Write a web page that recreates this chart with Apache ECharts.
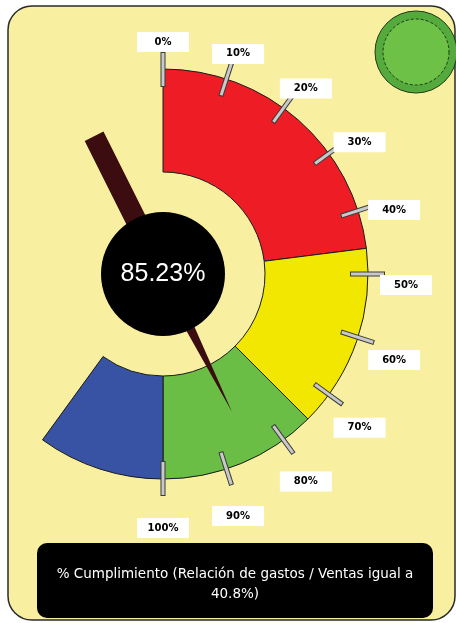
<!DOCTYPE html>
<html>
<head>
<meta charset="utf-8">
<script src="https://cdn.jsdelivr.net/npm/echarts@6/dist/echarts.min.js"></script>
<style>
  html, body { margin: 0; padding: 0; background: #ffffff; }
  #chart { width: 456px; height: 623px; }
</style>
</head>
<body>
<div id="chart"></div>
<script>
// Reading shown by the needle, in percent
const gaugeValue = 85.23;

// Scale of the dial (0% at the top, 100% at the bottom, clockwise)
const scaleMin = 0;
const scaleMax = 100;
const tickStep = 10;
const tickLabels = ['0%', '10%', '20%', '30%', '40%', '50%', '60%', '70%', '80%', '90%', '100%'];

// Colour bands, in percent of the scale
const bandNames = ['Bajo', 'Medio', 'Bueno', 'Excedido'];
const bandFrom = [0, 46, 75, 100];
const bandTo = [46, 75, 100, 120];
const bandColors = ['#ee1d25', '#f2e700', '#6abd45', '#3953a4'];

// Caption under the dial
const captionLines = ['% Cumplimiento (Relación de gastos / Ventas igual a', '40.8%)'];

// A full turn spans twice the scale, because the 0–100% scale covers half a turn
const fullTurn = 2 * (scaleMax - scaleMin);

const dialCenter = [163, 274];
const labelCenter = [163, 285];
const outerR = 205;
const innerR = 102;

const bandData = bandFrom.map((f, i) => ({
  name: bandNames[i],
  value: bandTo[i] - f,
  itemStyle: { color: bandColors[i] }
}));
bandData.push({
  name: '',
  value: fullTurn - (bandTo[bandTo.length - 1] - bandFrom[0]),
  itemStyle: { color: 'rgba(0,0,0,0)', borderWidth: 0 }
});

const splitCount = (scaleMax - scaleMin) / tickStep;

function hiddenDial(extra) {
  return Object.assign({
    type: 'gauge',
    z: 3,
    center: dialCenter,
    radius: outerR,
    startAngle: 90,
    endAngle: -90,
    min: scaleMin,
    max: scaleMax,
    splitNumber: splitCount,
    silent: true,
    animation: false,
    axisLine: { show: false, lineStyle: { width: 0 } },
    splitLine: { show: false, length: 0, distance: 0 },
    axisTick: { show: false },
    axisLabel: { show: false },
    pointer: { show: false },
    anchor: { show: false },
    title: { show: false },
    detail: { show: false },
    data: [{ value: gaugeValue }]
  }, extra);
}

// Tick bars: a dark outline bar with a lighter bar laid over it
function tickRing(width, length, distance, color, z) {
  return hiddenDial({
    z: z,
    splitLine: { show: true, length: length, distance: distance, lineStyle: { color: color, width: width, cap: 'butt' } }
  });
}

const chart = echarts.init(document.getElementById('chart'), null, { renderer: 'canvas' });

chart.setOption({
  animation: false,
  backgroundColor: '#ffffff',
  title: {
    text: captionLines.join('\n'),
    left: 235,
    top: 564,
    textAlign: 'center',
    padding: 0,
    textStyle: {
      color: '#ffffff',
      fontSize: 13.5,
      fontWeight: 'normal',
      fontFamily: 'DejaVu Sans',
      lineHeight: 20
    }
  },
  graphic: [
    {
      type: 'rect', z: 0, silent: true,
      shape: { x: 8, y: 6, width: 447, height: 614, r: 24 },
      style: { fill: '#f8f0a0', stroke: '#2a2a2a', lineWidth: 1.5 }
    },
    {
      type: 'circle', z: 1, silent: true,
      shape: { cx: 416, cy: 52, r: 41 },
      style: { fill: '#55aa3d', stroke: '#1f3a12', lineWidth: 1 }
    },
    {
      type: 'circle', z: 1, silent: true,
      shape: { cx: 416, cy: 52, r: 33 },
      style: { fill: '#6dc147', stroke: '#1f3a12', lineWidth: 1, lineDash: [3, 2] }
    },
    {
      type: 'rect', z: 1, silent: true,
      shape: { x: 37, y: 543, width: 396, height: 75, r: 10 },
      style: { fill: '#000000' }
    }
  ],
  series: [
    {
      type: 'pie',
      z: 2,
      center: dialCenter,
      radius: [innerR, outerR],
      startAngle: 90,
      clockwise: true,
      silent: true,
      animation: false,
      avoidLabelOverlap: false,
      label: { show: false },
      labelLine: { show: false },
      itemStyle: { borderColor: '#1a1a1a', borderWidth: 1 },
      data: bandData
    },
    tickRing(5, 35, -17, '#3a3a3a', 3),
    tickRing(3, 33, -16, '#c9c9c9', 4),
    // Percent labels in white boxes
    hiddenDial({
      z: 4,
      center: labelCenter,
      radius: 243,
      axisLabel: {
        show: true,
        distance: 0,
        rotate: 0.001,
        formatter: v => tickLabels[Math.round((v - scaleMin) / tickStep)],
        color: '#000000',
        fontSize: 10,
        fontWeight: 'bold',
        fontFamily: 'DejaVu Sans',
        backgroundColor: '#ffffff',
        width: 52,
        height: 20,
        lineHeight: 20
      }
    }),
    // Needle: thick tail behind the hub, tapering blade towards the value
    hiddenDial({
      z: 5,
      pointer: {
        show: true,
        icon: 'path://M10.5 0 L18 154 L21 154 L21 308 L0 308 L0 154 L3 154 Z',
        length: 308,
        width: 21,
        offsetCenter: [0, 154],
        itemStyle: { color: '#3b0c10' }
      }
    }),
    // Hub with the reading
    hiddenDial({
      z: 6,
      detail: {
        show: true,
        offsetCenter: [0, 0],
        valueAnimation: false,
        formatter: v => v.toFixed(2) + '%',
        color: '#ffffff',
        fontSize: 25,
        fontWeight: 'normal',
        fontFamily: 'Liberation Sans',
        backgroundColor: '#000000',
        width: 124,
        height: 124,
        lineHeight: 124,
        borderRadius: 62,
        padding: 0
      }
    })
  ]
});
</script>
</body>
</html>
